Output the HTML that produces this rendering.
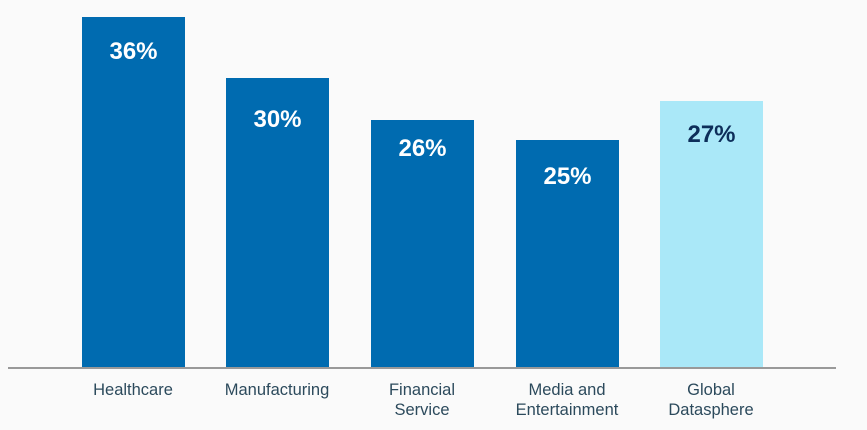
<!DOCTYPE html>
<html><head><style>
body{margin:0;width:867px;height:430px;background:#fafafa;position:relative;overflow:hidden;font-family:"Liberation Sans",sans-serif}
.b{position:absolute;width:103px;background:#006bb0;bottom:63px}
.v{position:absolute;width:103px;text-align:center;color:#fff;font-weight:bold;font-size:24px}
.l{position:absolute;width:160px;text-align:center;color:#2c4a5c;font-size:17px;line-height:20px;top:380px;transform:scaleX(0.97)}
</style></head><body>
<div class="b" style="left:82px;top:17px"></div>
<div class="b" style="left:226px;top:78px"></div>
<div class="b" style="left:371px;top:120px"></div>
<div class="b" style="left:516px;top:140px"></div>
<div class="b" style="left:660px;top:101px;background:#aae8f8"></div>
<div class="v" style="left:82px;top:38px">36%</div>
<div class="v" style="left:226px;top:106px">30%</div>
<div class="v" style="left:371px;top:135px">26%</div>
<div class="v" style="left:516px;top:163px">25%</div>
<div class="v" style="left:660px;top:121px;color:#0d2e5a">27%</div>
<div style="position:absolute;left:8px;width:828px;top:367px;height:2px;background:#999"></div>
<div class="l" style="left:53px">Healthcare</div>
<div class="l" style="left:197px">Manufacturing</div>
<div class="l" style="left:342px">Financial<br>Service</div>
<div class="l" style="left:487px">Media and<br>Entertainment</div>
<div class="l" style="left:631px">Global<br>Datasphere</div>
</body></html>
